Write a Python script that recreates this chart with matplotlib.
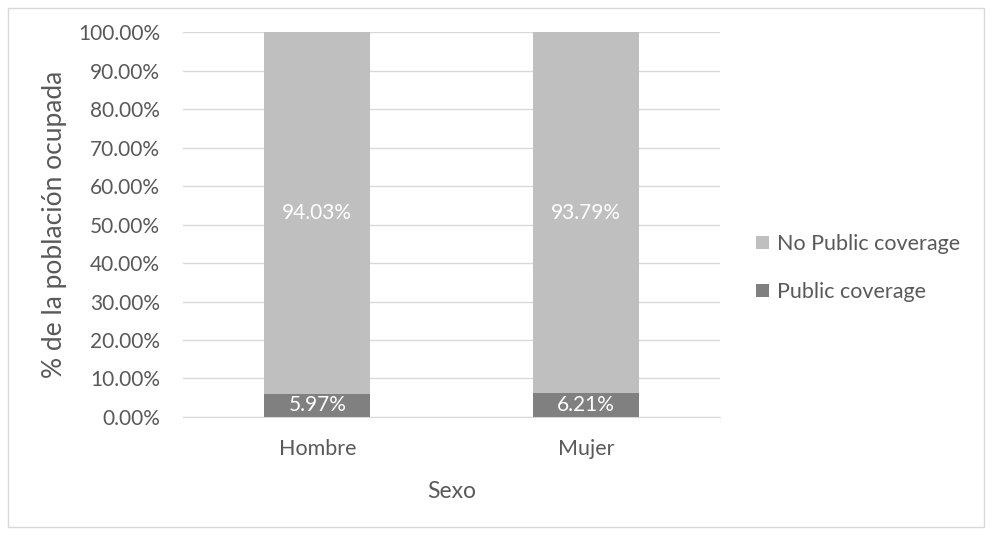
import matplotlib.pyplot as plt
from matplotlib.patches import Rectangle
from matplotlib.ticker import PercentFormatter

plt.rcParams['font.family'] = ['Lato', 'DejaVu Sans']

# Datos
sexo = ["Hombre", "Mujer"]
public = [5.97, 6.21]
no_public = [94.03, 93.79]

gris_claro = "#BFBFBF"
gris_oscuro = "#808080"
texto = "#595959"

fig = plt.figure(figsize=(9.92, 5.35), dpi=100)
ax = fig.add_axes([0.1845, 0.2206, 0.5415, 0.7194])

x = range(len(sexo))
b1 = ax.bar(x, public, width=0.395, color=gris_oscuro, label="Public coverage", zorder=3)
b2 = ax.bar(x, no_public, width=0.395, bottom=public, color=gris_claro,
            label="No Public coverage", zorder=3)

for i in x:
    ax.text(i, public[i] / 2, f"{public[i]:.2f}%", ha="center", va="center",
            color="white", fontsize=15, zorder=4)
    ax.text(i, public[i] + no_public[i] / 2, f"{no_public[i]:.2f}%", ha="center",
            va="center", color="white", fontsize=15, zorder=4)

ax.set_xlim(-0.5, 1.5)
ax.set_ylim(0, 100)
ax.set_yticks(range(0, 101, 10))
ax.yaxis.set_major_formatter(PercentFormatter(decimals=2))
ax.set_xticks(list(x))
ax.set_xticklabels(sexo, fontsize=15.5)
ax.grid(axis="y", color="#D9D9D9", linewidth=1, zorder=0)
for s in ["top", "right", "left"]:
    ax.spines[s].set_visible(False)
ax.spines["bottom"].set_color("#D9D9D9")
ax.tick_params(axis="both", length=0, colors=texto)
ax.tick_params(axis="y", labelsize=15, pad=16.5)
ax.tick_params(axis="x", pad=16)

ax.set_xlabel("Sexo", color=texto, fontsize=16.5, labelpad=16)
ax.set_ylabel("% de la población ocupada", color=texto, fontsize=19, labelpad=8)

fig.legend(handles=[b2, b1], loc="center left", bbox_to_anchor=(0.743, 0.499),
           frameon=False, fontsize=15.5, labelcolor=texto, handlelength=0.6,
           handleheight=0.6, handletextpad=0.35, labelspacing=1.3)

fig.patches.append(Rectangle((0.008, 0.015), 0.984, 0.97, transform=fig.transFigure,
                             fill=False, edgecolor="#D9D9D9", linewidth=1))

fig.savefig("out.png", dpi=100)
